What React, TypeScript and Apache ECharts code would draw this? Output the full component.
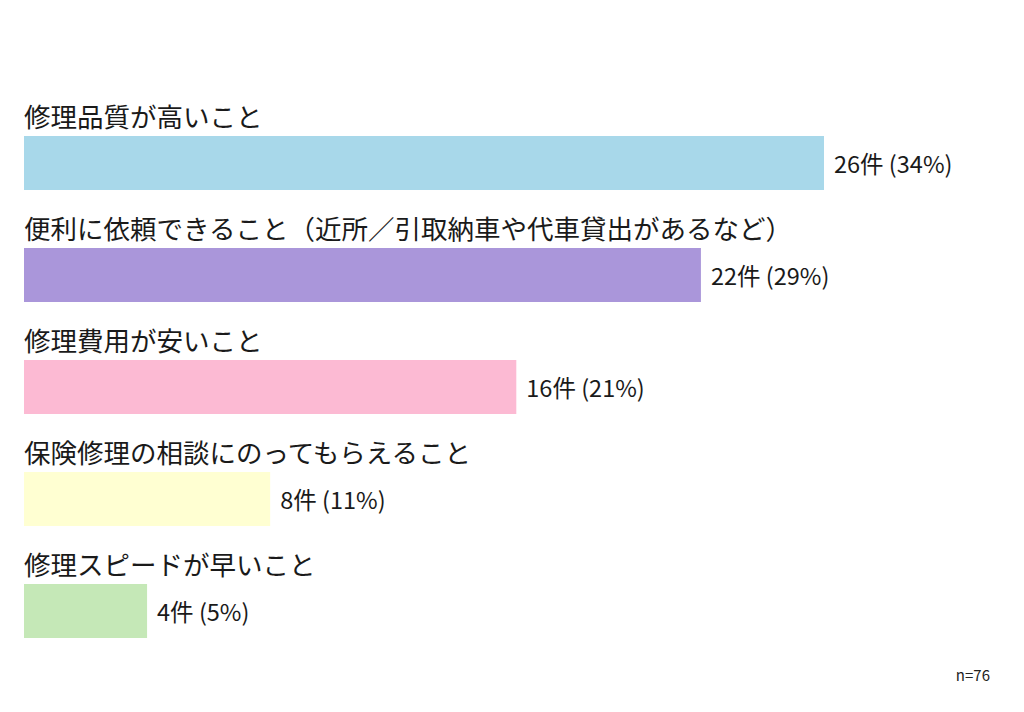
import React, { useEffect, useRef } from "react";
import * as echarts from "echarts";

const categories = [
  "修理品質が高いこと",
  "便利に依頼できること（近所／引取納車や代車貸出があるなど）",
  "修理費用が安いこと",
  "保険修理の相談にのってもらえること",
  "修理スピードが早いこと",
];
const counts = [26, 22, 16, 8, 4];
const percents = [34, 29, 21, 11, 5];
const colors = ["#a8d8ea", "#aa96da", "#fcbad3", "#ffffd2", "#c5e8b7"];
const sampleNote = "n=76";

const FONT = '"Noto Sans CJK JP", "Noto Sans", sans-serif';

export default function App() {
  const ref = useRef<HTMLDivElement>(null);
  useEffect(() => {
    document.body.style.margin = "0";
    const chart = echarts.init(ref.current!, null, { renderer: "svg" });
    chart.setOption({
      animation: false,
      backgroundColor: "#ffffff",
      grid: { left: 24, width: 800, top: 107, height: 560, containLabel: false },
      xAxis: {
        type: "value",
        min: 0,
        max: 26,
        show: false,
      },
      yAxis: {
        type: "category",
        inverse: true,
        data: categories,
        show: false,
      },
      graphic: [
        {
          type: "text",
          right: 34,
          top: 667,
          style: { text: sampleNote, fontSize: 15, fill: "#222", fontFamily: FONT },
        },
      ],
      series: [
        {
          type: "bar",
          barWidth: 54,
          data: counts.map((v, i) => ({ value: v, itemStyle: { color: colors[i] } })),
          label: {
            show: true,
            position: [0, -21],
            align: "left",
            verticalAlign: "middle",
            fontSize: 26.5,
            color: "#1a1a1a",
            fontFamily: FONT,
            formatter: (p: any) => categories[p.dataIndex],
          },
        },
        {
          type: "bar",
          barWidth: 54,
          barGap: "-100%",
          data: counts,
          itemStyle: { color: "rgba(0,0,0,0)" },
          label: {
            show: true,
            position: "right",
            distance: 10,
            fontSize: 23.5,
            color: "#1a1a1a",
            fontFamily: FONT,
            formatter: (p: any) => `${counts[p.dataIndex]}件 (${percents[p.dataIndex]}%)`,
          },
        },
      ],
    });
    return () => chart.dispose();
  }, []);
  return <div ref={ref} style={{ width: 1024, height: 712 }} />;
}
